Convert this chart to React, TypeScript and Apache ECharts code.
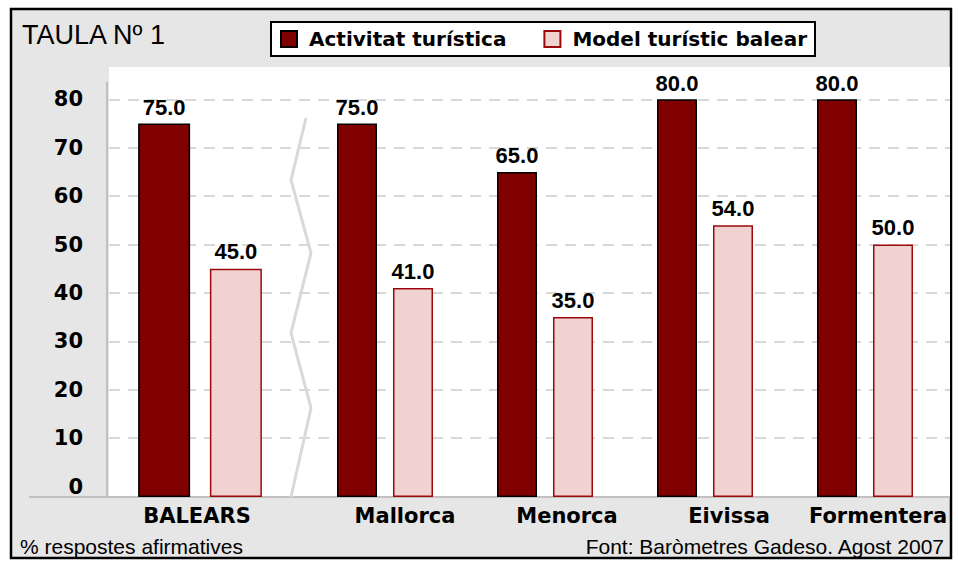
import React, { useEffect, useRef } from 'react';
import * as echarts from 'echarts';

const categories = ['BALEARS', 'Mallorca', 'Menorca', 'Eivissa', 'Formentera'];
const activitat = [75.0, 75.0, 65.0, 80.0, 80.0];
const model = [45.0, 41.0, 35.0, 54.0, 50.0];
const seriesNames = ['Activitat turística', 'Model turístic balear'];
const titleText = 'TAULA Nº 1';
const noteLeft = '% respostes afirmatives';
const noteRight = 'Font: Baròmetres Gadeso. Agost 2007';

const BOLD = '"DejaVu Sans", sans-serif';
const REG = '"Liberation Sans", Arial, sans-serif';

export default function App() {
  const ref = useRef<HTMLDivElement>(null);
  useEffect(() => {
    if (!ref.current) return;
    const chart = echarts.init(ref.current, null, { renderer: 'svg' });
    const Y0 = 486.5;
    const Y80 = 99.3;
    const BOTTOM = 497;
    const unit = (Y0 - Y80) / 80;
    const barMin = -(BOTTOM - Y0) / unit;

    const catStyle = {
      fontFamily: BOLD,
      fontWeight: 'bold' as const,
      fontSize: 21,
      color: '#000',
      lineHeight: 22,
    };
    const shiftsRest = [40, 44, 48, 26];

    const dataLabel = (dist: number) => ({
      show: true,
      position: 'top' as const,
      distance: dist,
      formatter: (p: any) => Number(p.value).toFixed(1),
      fontFamily: REG,
      fontWeight: 'bold' as const,
      fontSize: 22,
      color: '#000',
    });
    const darkStyle = { color: '#800000', borderColor: '#000', borderWidth: 1.5 };
    const pinkStyle = { color: '#f0d3d1', borderColor: '#9a0a0a', borderWidth: 1.5 };

    const hiddenY = (gi: number) => ({
      gridIndex: gi,
      type: 'value' as const,
      min: barMin,
      max: 80,
      startValue: barMin,
      show: false,
      splitLine: { show: false },
    });

    chart.setOption({
      animation: false,
      backgroundColor: '#fff',
      grid: [
        { left: 109, right: 8, top: Y80, height: Y0 - Y80 },
        { left: 130, width: 140, top: Y80, height: BOTTOM - Y80 },
        { left: 305, width: 640, top: Y80, height: BOTTOM - Y80 },
      ],
      xAxis: [
        { gridIndex: 0, type: 'category', data: [''], show: false },
        {
          gridIndex: 1,
          type: 'category',
          data: categories.slice(0, 1),
          axisLine: { show: false },
          axisTick: { show: false },
          axisLabel: {
            interval: 0,
            margin: 8,
            formatter: (v: string) => `{b0|${v}}`,
            rich: { b0: { ...catStyle, padding: [0, 6, 0, 0] } },
          },
        },
        {
          gridIndex: 2,
          type: 'category',
          data: categories.slice(1),
          axisLine: { show: false },
          axisTick: { show: false },
          axisLabel: {
            interval: 0,
            margin: 8,
            formatter: (v: string, i: number) => `{r${i}|${v}}`,
            rich: Object.fromEntries(
              shiftsRest.map((s, i) => [`r${i}`, { ...catStyle, padding: [0, 0, 0, s] }])
            ),
          },
        },
      ],
      yAxis: [
        {
          gridIndex: 0,
          type: 'value',
          min: 0,
          max: 80,
          interval: 10,
          axisLine: { show: false },
          axisTick: { show: false },
          axisLabel: {
            fontFamily: BOLD,
            fontWeight: 'bold',
            fontSize: 21,
            color: '#000',
            margin: 26,
          },
          splitLine: {
            show: true,
            lineStyle: {
              color: ['rgba(0,0,0,0)', '#d9d9d9', '#d9d9d9', '#d9d9d9', '#d9d9d9', '#d9d9d9', '#d9d9d9', '#d9d9d9', '#d9d9d9'],
              type: [11, 8],
              width: 2,
            },
          },
        },
        hiddenY(1),
        hiddenY(2),
      ],
      legend: {
        data: seriesNames,
        left: 271,
        top: 22,
        padding: [7, 8, 7, 9],
        itemWidth: 16,
        itemHeight: 16,
        itemGap: 37,
        icon: 'rect',
        backgroundColor: '#fff',
        borderColor: '#000',
        borderWidth: 2,
        textStyle: {
          fontFamily: BOLD,
          fontWeight: 'bold',
          fontSize: 20,
          color: '#000',
          lineHeight: 18,
          padding: [0, 0, 0, 7],
        },
      },
      series: [
        {
          type: 'bar',
          name: seriesNames[0],
          xAxisIndex: 1,
          yAxisIndex: 1,
          data: activitat.slice(0, 1),
          barWidth: 52,
          barGap: '38%',
          itemStyle: darkStyle,
          label: dataLabel(5),
        },
        {
          type: 'bar',
          name: seriesNames[1],
          xAxisIndex: 1,
          yAxisIndex: 1,
          data: model.slice(0, 1),
          barWidth: 52,
          barGap: '38%',
          itemStyle: pinkStyle,
          label: dataLabel(6),
        },
        {
          type: 'bar',
          name: seriesNames[0],
          xAxisIndex: 2,
          yAxisIndex: 2,
          data: activitat.slice(1),
          barWidth: 40,
          barGap: '40%',
          itemStyle: darkStyle,
          label: dataLabel(5),
        },
        {
          type: 'bar',
          name: seriesNames[1],
          xAxisIndex: 2,
          yAxisIndex: 2,
          data: model.slice(1),
          barWidth: 40,
          barGap: '40%',
          itemStyle: pinkStyle,
          label: dataLabel(6),
        },
      ],
      graphic: {
        elements: [
          {
            type: 'rect',
            silent: true,
            z: -20,
            shape: { x: 11, y: 9, width: 940, height: 549 },
            style: { fill: '#e6e6e6', stroke: '#000', lineWidth: 2.5 },
          },
          {
            type: 'rect',
            silent: true,
            z: -19,
            shape: { x: 109, y: 67, width: 841, height: 430 },
            style: { fill: '#fff' },
          },
          {
            type: 'line',
            silent: true,
            z: 1,
            shape: { x1: 107, y1: 82, x2: 107, y2: 497 },
            style: { stroke: '#c0c0c0', lineWidth: 2 },
          },
          {
            type: 'line',
            silent: true,
            z: 1,
            shape: { x1: 29, y1: 497, x2: 950, y2: 497 },
            style: { stroke: '#c0c0c0', lineWidth: 2 },
          },
          {
            type: 'polyline',
            silent: true,
            z: 1,
            shape: { points: [[306, 118], [291, 180], [311, 253], [291, 333], [311, 408], [291, 497]] },
            style: { stroke: '#d9d9d9', lineWidth: 3, fill: null },
          },
          {
            type: 'text',
            silent: true,
            z: 5,
            style: {
              text: titleText,
              x: 22,
              y: 35,
              fontFamily: REG,
              fontSize: 27,
              fill: '#000',
              align: 'left',
              verticalAlign: 'middle',
            },
          },
          {
            type: 'text',
            silent: true,
            z: 5,
            style: {
              text: noteLeft,
              x: 20,
              y: 546,
              fontFamily: REG,
              fontSize: 21,
              fill: '#000',
              align: 'left',
              verticalAlign: 'middle',
            },
          },
          {
            type: 'text',
            silent: true,
            z: 5,
            style: {
              text: noteRight,
              x: 944,
              y: 546,
              fontFamily: REG,
              fontSize: 21,
              fill: '#000',
              align: 'right',
              verticalAlign: 'middle',
            },
          },
        ],
      },
    });
    return () => chart.dispose();
  }, []);
  return (
    <div
      ref={ref}
      style={{ position: 'absolute', left: 0, top: 0, width: 958, height: 561 }}
    />
  );
}
